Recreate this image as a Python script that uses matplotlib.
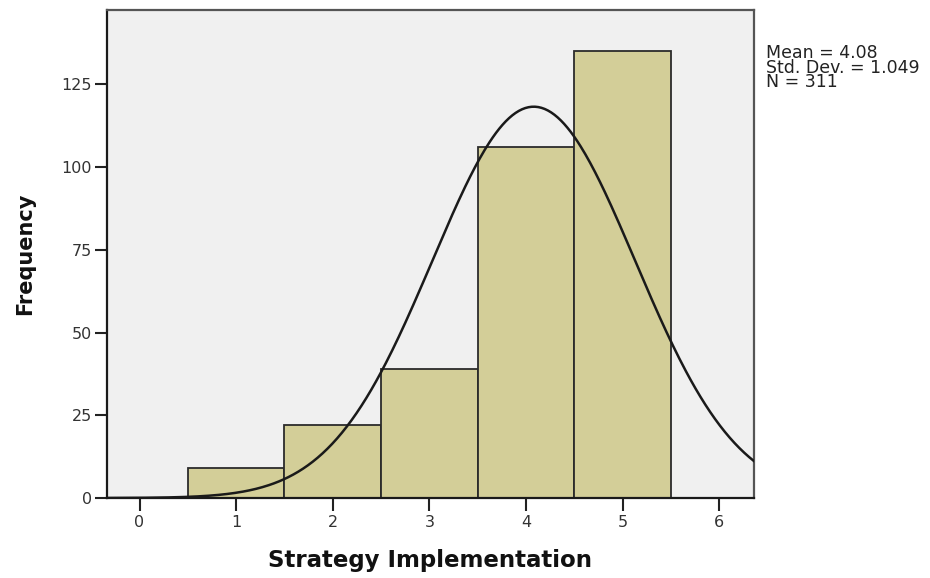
import numpy as np
import matplotlib.pyplot as plt

# Histogram data (Strategy Implementation)
categories = [1, 2, 3, 4, 5]
frequencies = [9, 22, 39, 106, 135]
mean_val = 4.08
std_val = 1.049
n_val = 311
x_ticks = [0, 1, 2, 3, 4, 5, 6]
y_ticks = [0, 25, 50, 75, 100, 125]

plt.rcParams['font.family'] = ['DejaVu Sans']

fig = plt.figure(figsize=(9.30, 5.78), dpi=100)
ax = fig.add_axes([0.1147, 0.1384, 0.8108 - 0.1147, 0.9827 - 0.1384])
ax.set_facecolor("#f0f0f0")

# Bars
ax.bar(categories, frequencies, width=1.0, color="#d3ce98", edgecolor="#2b2b2b", linewidth=1.3, zorder=2)

# Normal curve scaled to counts (bin width 1)
xlim = (-0.34, 6.36)
xs = np.linspace(xlim[0], xlim[1], 400)
ys = n_val / (std_val * np.sqrt(2 * np.pi)) * np.exp(-0.5 * ((xs - mean_val) / std_val) ** 2)
ax.plot(xs, ys, color="#1a1a1a", linewidth=1.8, zorder=3)

ax.set_xlim(xlim)
ax.set_ylim(0, 147.5)
ax.set_xticks(x_ticks)
ax.set_yticks(y_ticks)
ax.tick_params(axis="both", direction="out", length=9, width=1.5, labelsize=11.5, color="#222222", labelcolor="#333333")
ax.tick_params(axis="x", pad=3.5)
ax.tick_params(axis="y", pad=1.5)

for side in ["left", "bottom"]:
    ax.spines[side].set_color("#1a1a1a")
    ax.spines[side].set_linewidth(1.6)
for side in ["top", "right"]:
    ax.spines[side].set_color("#555555")
    ax.spines[side].set_linewidth(1.6)

ax.set_xlabel("Strategy Implementation", fontsize=16.5, fontweight="bold", labelpad=13.5, color="#111111")
ax.set_ylabel("Frequency", fontsize=15, fontweight="bold", labelpad=19, color="#111111")

fig.text(0.824, 0.924, "Mean = " + f"{mean_val:.2f}" + "\nStd. Dev. = " + f"{std_val:.3f}" + "\nN = " + str(n_val),
         fontsize=12.5, va="top", ha="left", linespacing=0.76, color="#222222")

plt.savefig("out.png", dpi=100, facecolor="white")
